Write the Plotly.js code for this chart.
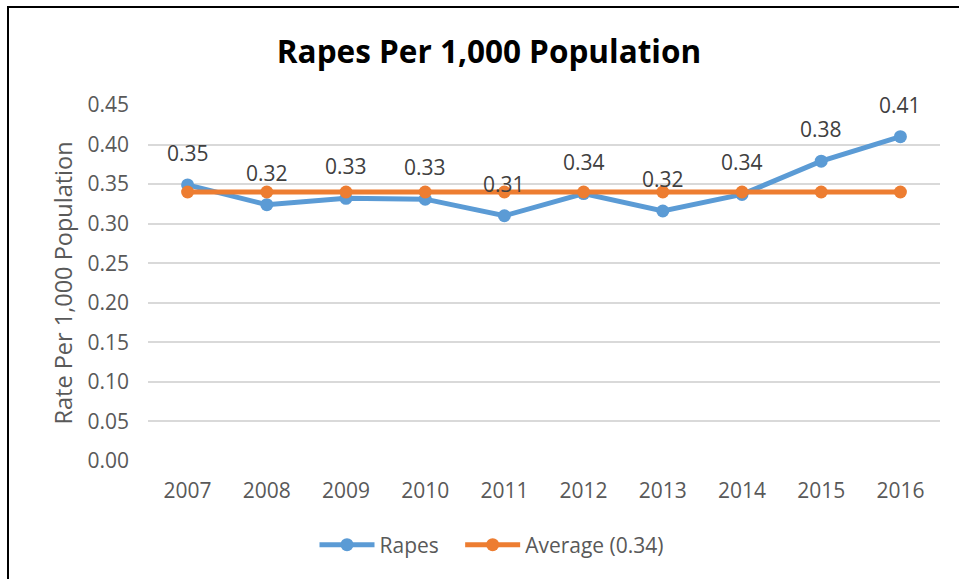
<!DOCTYPE html>
<html>
<head>
<meta charset="utf-8">
<script src="https://cdn.plot.ly/plotly-3.0.1.min.js"></script>
<style>
  html, body { margin: 0; padding: 0; background: #fff; }
  #wrap { position: relative; width: 959px; height: 579px; overflow: hidden; }
  #chart { position: absolute; left: 0; top: 0; width: 959px; height: 579px; }
  #frame { position: absolute; left: 7px; top: 6px; width: 1000px; height: 1000px;
           border-left: 2px solid #000; border-top: 2px solid #000; pointer-events: none; }
</style>
</head>
<body>
<div id="wrap">
  <div id="chart"></div>
  <div id="frame"></div>
</div>
<script>
const years = ['2007','2008','2009','2010','2011','2012','2013','2014','2015','2016'];
const rapes = [0.349, 0.324, 0.332, 0.331, 0.310, 0.338, 0.316, 0.337, 0.379, 0.410];
const average = [0.34, 0.34, 0.34, 0.34, 0.34, 0.34, 0.34, 0.34, 0.34, 0.34];
const rapeLabels = ['0.35','0.32','0.33','0.33','0.31','0.34','0.32','0.34','0.38','0.41'];
const yTicks = [0, 0.05, 0.10, 0.15, 0.20, 0.25, 0.30, 0.35, 0.40, 0.45];

const FONT = '"Open Sans", "Noto Sans", sans-serif';
const BLUE = '#5B9BD5';
const ORANGE = '#ED7D31';

const traces = [
  {
    x: years, y: rapes, name: 'Rapes&nbsp;&nbsp;&nbsp;', type: 'scatter', mode: 'lines+markers',
    line: {color: BLUE, width: 5},
    marker: {color: BLUE, size: 13},
    cliponaxis: false
  },
  {
    x: years, y: average, name: 'Average (0.34)', type: 'scatter', mode: 'lines+markers',
    line: {color: ORANGE, width: 5},
    marker: {color: ORANGE, size: 13},
    cliponaxis: false
  }
];

// category index i is the position of years[i] on the category axis
const annotations = years.map((yr, i) => ({
  x: i, y: rapes[i], xref: 'x', yref: 'y',
  text: rapeLabels[i], showarrow: false,
  yshift: 32, yanchor: 'middle', xanchor: 'center',
  font: {family: FONT, size: 21, color: '#404040'}
}));

const layout = {
  width: 959, height: 579,
  margin: {l: 148, r: 19, t: 105, b: 118},
  paper_bgcolor: '#fff', plot_bgcolor: '#fff',
  font: {family: FONT, color: '#595959', size: 21},
  title: {
    text: '<b>Rapes Per 1,000 Population</b>',
    font: {family: FONT, size: 31.5, color: '#000'},
    x: 489 / 959, xanchor: 'center', xref: 'container',
    y: 1 - 52 / 579, yanchor: 'middle', yref: 'container'
  },
  xaxis: {
    type: 'category', categoryorder: 'array', categoryarray: years,
    range: [-0.5, years.length - 0.5], autorange: false,
    showgrid: false, zeroline: false, showline: false,
    ticks: '', tickfont: {family: FONT, size: 21, color: '#595959'},
    ticklabelstandoff: 15
  },
  yaxis: {
    range: [0, 0.45], autorange: false, tickvals: yTicks, tickformat: '.2f',
    showgrid: true, gridcolor: '#D9D9D9', gridwidth: 2,
    zeroline: false, showline: false, ticks: '',
    tickfont: {family: FONT, size: 21, color: '#595959'},
    ticklabelstandoff: 18,
    title: {text: 'Rate Per 1,000 Population', standoff: 8,
            font: {family: FONT, size: 23.5, color: '#595959'}},
    automargin: false
  },
  showlegend: true,
  legend: {
    orientation: 'h', x: (492 - 148) / 792, xanchor: 'center',
    y: (461 - 545) / 356, yanchor: 'middle',
    font: {family: FONT, size: 21, color: '#595959'},
    itemwidth: 55, tracegroupgap: 0
  },
  annotations: annotations
};

Plotly.newPlot('chart', traces, layout, {displayModeBar: false, staticPlot: true});
</script>
</body>
</html>
